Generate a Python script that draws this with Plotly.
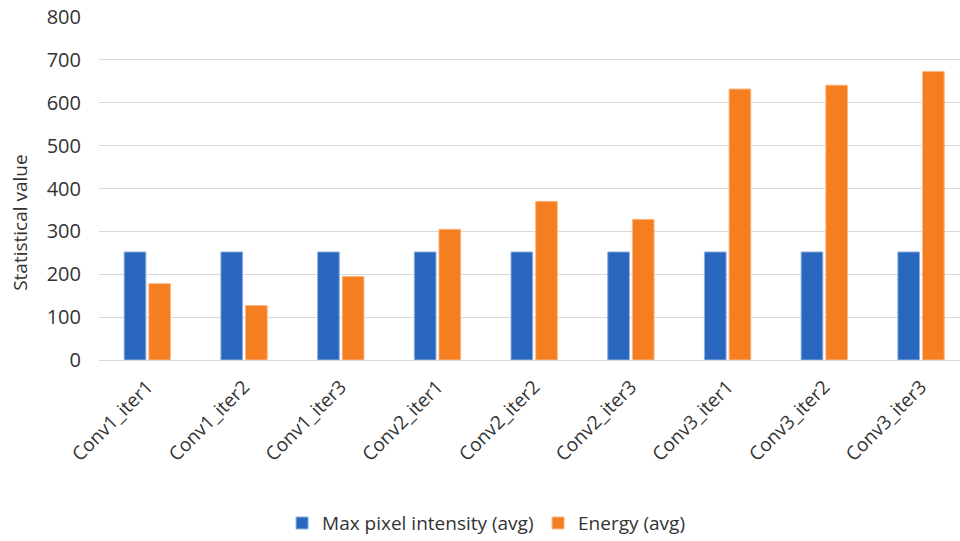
import plotly.graph_objects as go

categories = ["Conv1_iter1", "Conv1_iter2", "Conv1_iter3",
              "Conv2_iter1", "Conv2_iter2", "Conv2_iter3",
              "Conv3_iter1", "Conv3_iter2", "Conv3_iter3"]
max_intensity = [252, 252, 252, 252, 252, 252, 252, 252, 252]
energy = [178, 127, 195, 305, 370, 328, 632, 641, 673]
y_ticks = [0, 100, 200, 300, 400, 500, 600, 700, 800]

FONT = "Open Sans"
TXT = "#333333"

fig = go.Figure()
fig.add_trace(go.Bar(
    x=categories, y=max_intensity, name="Max pixel intensity (avg)",
    marker=dict(color="#2966BE", line=dict(color="#8FB0E3", width=1)),
))
fig.add_trace(go.Bar(
    x=categories, y=energy, name="Energy (avg)",
    marker=dict(color="#F57E20", line=dict(color="#F9B98A", width=1)),
))

fig.update_layout(
    width=960, height=541,
    margin=dict(l=99, r=0, t=17, b=181),
    plot_bgcolor="white", paper_bgcolor="white",
    barmode="group", bargap=0.49, bargroupgap=0.12,
    font=dict(family=FONT, size=19, color=TXT),
    showlegend=True,
    legend=dict(orientation="h", xref="container", yref="container",
                x=0.2938, xanchor="left", y=0.033, yanchor="middle",
                font=dict(family=FONT, size=19, color=TXT),
                itemwidth=30, tracegroupgap=0,
                entrywidth=211, entrywidthmode="pixels"),
    xaxis=dict(range=[-0.5, 8.403], tickangle=-45, showgrid=False,
               showline=False, ticks="", ticklabelstandoff=11,
               tickfont=dict(family=FONT, size=19, color=TXT)),
    yaxis=dict(range=[0, 800], tickvals=y_ticks, showgrid=True,
               gridcolor="#D9D9D9", gridwidth=1, zeroline=True,
               zerolinecolor="#D9D9D9", zerolinewidth=1, showline=False,
               ticks="", ticklabelstandoff=17,
               tickfont=dict(family=FONT, size=20, color=TXT)),
    annotations=[dict(text="Statistical value", textangle=-90,
                      xref="paper", yref="paper", x=-0.0917, y=0.40,
                      xanchor="center", yanchor="middle", showarrow=False,
                      font=dict(family=FONT, size=19, color=TXT))],
)

fig.write_html("out.html")
